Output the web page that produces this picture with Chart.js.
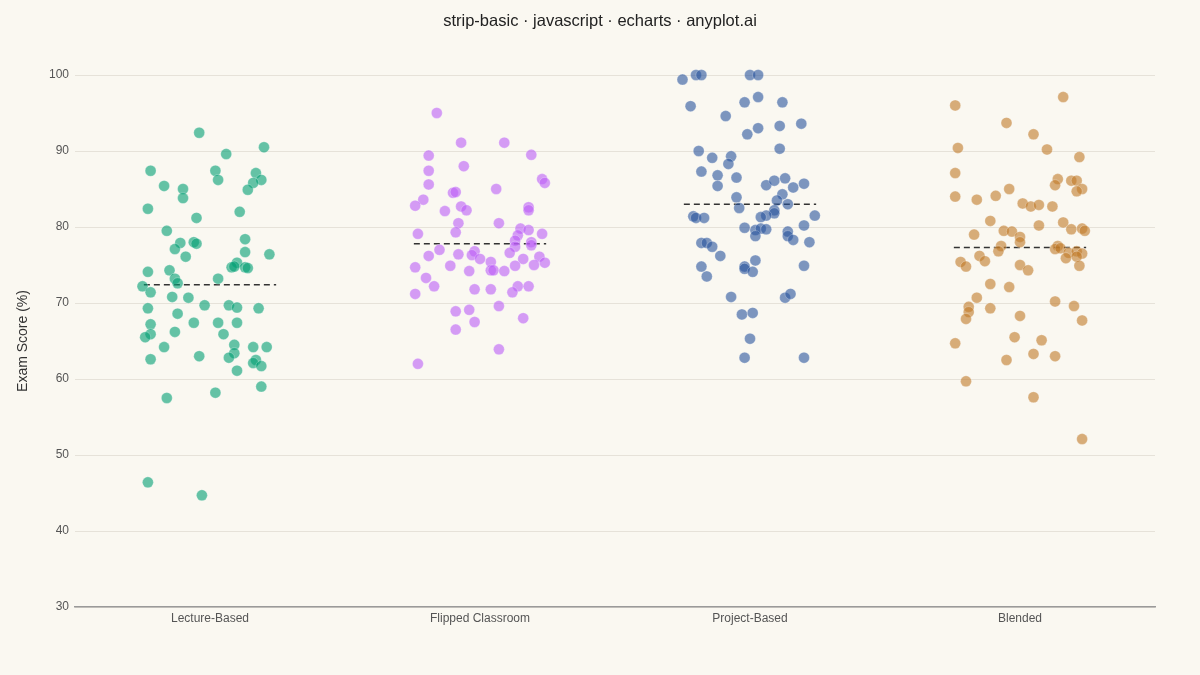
<!DOCTYPE html>
<html lang="en">
<head>
    <meta charset="UTF-8">
    <title>strip-basic</title>
    <style>
        body {
            margin: 0;
            padding: 0;
            background-color: #faf8f1;
            overflow: hidden;
        }
        #chart {
            display: block;
        }
    </style>
    <script src="https://cdn.jsdelivr.net/npm/chart.js"></script>
</head>
<body>
    <canvas id="chart" width="1200" height="675"></canvas>

    <script>
        // categories on the x axis
        const categories = ['Lecture-Based', 'Flipped Classroom', 'Project-Based', 'Blended'];

        // exam scores per teaching method
        const lectureScores = [92.4, 90.5, 89.6, 87.4, 87.4, 87.1, 86.2, 86.2, 85.8, 85.4, 85.0, 84.9, 83.8, 82.4, 82.0, 81.2, 79.5, 78.4, 77.9, 78.0, 77.8, 77.1, 76.7, 76.1, 76.4, 75.3, 74.7, 74.8, 74.7, 74.6, 74.3, 74.1, 73.2, 73.2, 72.6, 72.2, 71.4, 70.8, 70.7, 69.7, 69.7, 69.4, 69.3, 69.3, 68.6, 67.2, 67.4, 67.4, 67.4, 66.2, 65.9, 65.9, 65.5, 64.5, 64.2, 64.2, 64.2, 63.4, 63.0, 62.8, 62.6, 62.5, 62.1, 61.7, 61.1, 59.0, 58.2, 57.5, 46.4, 44.7];
        const flippedScores = [95.0, 91.1, 91.1, 89.4, 89.5, 87.4, 88.0, 86.3, 85.8, 85.6, 84.5, 84.6, 85.0, 83.6, 82.8, 82.1, 82.7, 82.2, 82.6, 82.2, 80.5, 80.5, 79.3, 79.1, 79.8, 79.6, 79.1, 78.9, 78.2, 78.0, 77.4, 77.6, 77.0, 76.8, 76.3, 76.2, 76.4, 76.6, 75.8, 75.8, 76.1, 75.4, 75.3, 74.7, 74.9, 74.9, 75.0, 74.2, 74.3, 74.3, 74.2, 73.3, 72.2, 71.8, 71.8, 72.2, 72.2, 71.4, 71.2, 69.6, 69.1, 68.9, 68.0, 67.5, 66.5, 63.9, 62.0];
        const projectScores = [99.4, 100.0, 100.0, 100.0, 100.0, 95.9, 96.4, 97.1, 96.4, 94.6, 92.2, 93.0, 93.3, 93.6, 90.0, 90.3, 89.1, 89.3, 88.3, 87.3, 86.8, 86.5, 85.4, 85.5, 86.1, 86.4, 85.2, 85.7, 84.3, 83.9, 83.5, 83.0, 82.5, 82.2, 81.8, 81.5, 81.3, 81.5, 81.4, 81.2, 81.2, 79.9, 79.6, 79.8, 79.7, 78.8, 79.4, 78.8, 78.3, 80.2, 78.0, 77.9, 77.9, 77.4, 76.2, 74.8, 73.5, 74.8, 74.5, 75.6, 74.1, 74.9, 70.8, 70.7, 71.2, 68.5, 68.7, 65.3, 62.8, 62.8];
        const blendedScores = [96.0, 97.1, 93.7, 92.2, 90.4, 90.2, 89.2, 87.1, 86.3, 85.5, 86.1, 86.1, 85.0, 84.7, 84.0, 83.6, 84.1, 85.0, 83.1, 82.7, 82.9, 82.7, 80.8, 80.2, 80.6, 79.7, 79.8, 79.5, 79.0, 79.5, 79.4, 78.7, 78.0, 77.5, 76.8, 76.2, 75.5, 75.4, 74.8, 75.0, 74.3, 77.5, 77.1, 77.2, 76.6, 76.8, 76.5, 75.9, 76.1, 74.9, 72.5, 72.1, 70.7, 69.5, 68.8, 67.9, 69.3, 68.3, 70.2, 69.6, 67.7, 64.7, 65.5, 65.1, 62.5, 63.3, 63.0, 59.7, 57.6, 52.1];

        // horizontal jitter of every point, in category units
        const lectureJitter = [-0.04, 0.20, 0.06, -0.22, 0.02, 0.17, 0.03, 0.19, 0.16, -0.17, -0.10, 0.14, -0.10, -0.23, 0.11, -0.05, -0.16, 0.13, -0.11, -0.06, -0.05, -0.13, 0.13, -0.09, 0.22, 0.10, 0.08, 0.09, 0.13, 0.14, -0.15, -0.23, -0.13, 0.03, -0.12, -0.25, -0.22, -0.14, -0.08, -0.02, 0.07, 0.10, 0.18, -0.23, -0.12, -0.22, -0.06, 0.03, 0.10, -0.13, 0.05, -0.22, -0.24, 0.09, -0.17, 0.16, 0.21, 0.09, -0.04, 0.07, -0.22, 0.17, 0.16, 0.19, 0.10, 0.19, 0.02, -0.16, -0.23, -0.03];
        const flippedJitter = [-0.16, -0.07, 0.09, -0.19, 0.19, -0.19, -0.06, 0.23, 0.24, -0.19, -0.10, -0.09, 0.06, -0.21, -0.24, -0.13, -0.07, -0.05, 0.18, 0.18, -0.08, 0.07, -0.09, -0.23, 0.15, 0.18, 0.23, 0.14, 0.13, 0.19, 0.13, 0.19, -0.15, -0.02, -0.03, -0.19, -0.08, 0.11, 0.00, 0.16, 0.22, 0.04, 0.24, -0.24, -0.11, 0.13, 0.20, -0.04, 0.04, 0.05, 0.09, -0.20, -0.17, -0.02, 0.04, 0.14, 0.18, 0.12, -0.24, 0.07, -0.04, -0.09, 0.16, -0.02, -0.09, 0.07, -0.23];
        const projectJitter = [-0.25, -0.20, -0.18, 0.00, 0.03, -0.22, -0.02, 0.03, 0.12, -0.09, -0.01, 0.03, 0.11, 0.19, -0.19, 0.11, -0.14, -0.07, -0.08, -0.18, -0.12, -0.05, -0.12, 0.06, 0.09, 0.13, 0.16, 0.20, 0.12, -0.05, 0.10, 0.14, -0.04, 0.09, 0.09, 0.06, 0.04, 0.24, -0.21, -0.20, -0.17, -0.02, 0.02, 0.04, 0.06, 0.02, 0.14, 0.14, 0.16, 0.20, 0.22, -0.18, -0.16, -0.14, -0.11, -0.18, -0.16, -0.02, -0.02, 0.02, 0.01, 0.20, -0.07, 0.13, 0.15, -0.03, 0.01, 0.00, -0.02, 0.20];
        const blendedJitter = [-0.24, 0.16, -0.05, 0.05, -0.23, 0.10, 0.22, -0.24, 0.14, 0.13, 0.19, 0.21, 0.23, 0.21, -0.24, -0.16, -0.09, -0.04, 0.01, 0.04, 0.07, 0.12, -0.11, 0.07, 0.16, 0.19, 0.23, 0.24, -0.17, -0.06, -0.03, 0.00, 0.00, -0.07, -0.08, -0.15, -0.13, -0.22, -0.20, 0.00, 0.03, 0.14, 0.13, 0.15, 0.18, 0.21, 0.23, 0.17, 0.21, 0.22, -0.11, -0.04, -0.16, -0.19, -0.19, -0.20, -0.11, 0.00, 0.13, 0.20, 0.23, -0.24, -0.02, 0.08, -0.05, 0.05, 0.13, -0.20, 0.05, 0.23];

        // group means (dashed lines)
        const meanScores = [72.4, 77.8, 83.0, 77.3];

        const scoreGroups = [lectureScores, flippedScores, projectScores, blendedScores];
        const jitterGroups = [lectureJitter, flippedJitter, projectJitter, blendedJitter];
        const groupColors = ['rgba(0, 158, 115, 0.6)', 'rgba(187, 93, 246, 0.6)', 'rgba(40, 84, 156, 0.6)', 'rgba(192, 122, 40, 0.6)'];

        const datasets = [];
        scoreGroups.forEach((scores, i) => {
            datasets.push({
                type: 'scatter',
                label: categories[i],
                data: scores.map((v, k) => ({ x: i + jitterGroups[i][k], y: v })),
                backgroundColor: groupColors[i],
                borderColor: 'rgba(255, 255, 255, 0.5)',
                borderWidth: 0.5,
                pointRadius: 5.5,
                clip: false
            });
        });
        meanScores.forEach((m, i) => {
            datasets.push({
                type: 'line',
                label: categories[i] + ' mean',
                data: [{ x: i - 0.245, y: m }, { x: i + 0.245, y: m }],
                borderColor: '#333333',
                borderWidth: 1.5,
                borderDash: [6, 4],
                pointRadius: 0,
                fill: false
            });
        });

        const fontFamily = "'Liberation Sans', Arial, sans-serif";
        const tickFont = { family: fontFamily, size: 12 };

        new Chart(document.getElementById('chart'), {
            data: { datasets: datasets },
            options: {
                responsive: false,
                animation: false,
                devicePixelRatio: 1,
                layout: { padding: 0 },
                scales: {
                    x: {
                        type: 'linear',
                        min: -0.5,
                        max: 3.5,
                        afterBuildTicks: (scale) => {
                            scale.ticks = categories.map((c, i) => ({ value: i }));
                        },
                        afterFit: (scale) => { scale.height = 68; },
                        ticks: {
                            color: '#555',
                            font: tickFont,
                            padding: 4,
                            callback: (value) => categories[value]
                        },
                        grid: { display: false, drawTicks: false },
                        border: { display: true, color: '#9a9a9a', width: 1.5 }
                    },
                    y: {
                        min: 30,
                        max: 100,
                        afterFit: (scale) => { scale.width = 75; },
                        ticks: {
                            stepSize: 10,
                            color: '#555',
                            font: tickFont,
                            padding: 6
                        },
                        grid: { color: '#e6e2d9', lineWidth: 1, drawTicks: false },
                        border: { display: false },
                        title: {
                            display: true,
                            text: 'Exam Score (%)',
                            color: '#333',
                            font: { family: fontFamily, size: 14 },
                            padding: { top: 15, bottom: 0 }
                        }
                    },
                    // empty right margin so the title stays centred on the page
                    yRight: {
                        position: 'right',
                        min: 30,
                        max: 100,
                        afterFit: (scale) => { scale.width = 45; },
                        ticks: { display: false },
                        grid: { display: false, drawTicks: false },
                        border: { display: false }
                    }
                },
                plugins: {
                    legend: { display: false },
                    tooltip: { enabled: false },
                    title: {
                        display: true,
                        text: 'strip-basic \u00b7 javascript \u00b7 echarts \u00b7 anyplot.ai',
                        color: '#222',
                        font: { family: fontFamily, size: 16.5, weight: 'normal' },
                        padding: { top: 12, bottom: 43.2 }
                    }
                }
            }
        });
    </script>
</body>
</html>
